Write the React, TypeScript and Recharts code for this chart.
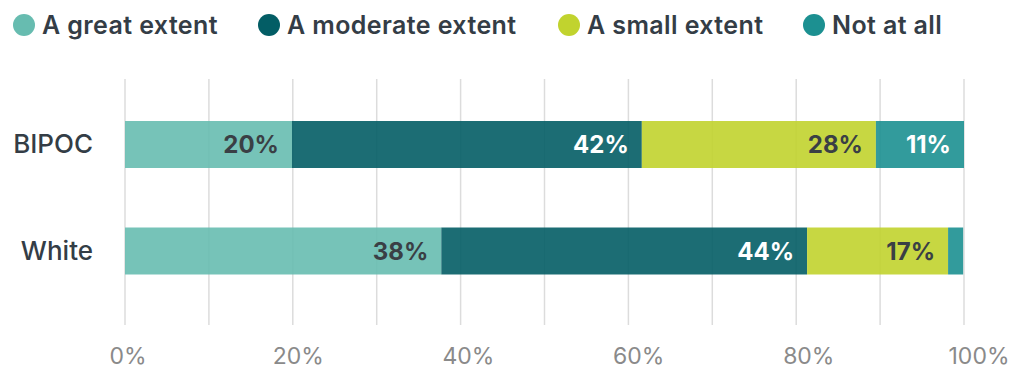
import React from 'react';
import { BarChart, Bar, XAxis, YAxis, CartesianGrid, Legend, LabelList } from 'recharts';

const groups = ['BIPOC', 'White'];
const greatExtent = [19.9, 37.7];
const moderateExtent = [41.7, 43.6];
const smallExtent = [27.9, 16.8];
const notAtAll = [10.5, 1.8];
const gridTicks = [0, 10, 20, 30, 40, 50, 60, 70, 80, 90, 100];
const axisTicks = [0, 20, 40, 60, 80, 100];

const series = [
  { key: 'great', name: 'A great extent', color: '#67BCB0', labelColor: '#3a3f45' },
  { key: 'moderate', name: 'A moderate extent', color: '#035D65', labelColor: '#ffffff' },
  { key: 'small', name: 'A small extent', color: '#C1D32E', labelColor: '#3a3f45' },
  { key: 'none', name: 'Not at all', color: '#1C9091', labelColor: '#ffffff' },
];

const data = groups.map((g, i) => ({
  group: g,
  great: greatExtent[i],
  moderate: moderateExtent[i],
  small: smallExtent[i],
  none: notAtAll[i],
}));

const FONT = 'Inter, "Open Sans", sans-serif';
const itemWidths = [245, 300, 245, undefined];

const LegendRow = () => (
  <div style={{ display: 'flex', alignItems: 'center', fontFamily: FONT }}>
    {series.map((s, i) => (
      <div key={s.key} style={{ display: 'flex', alignItems: 'center', width: itemWidths[i] }}>
        <span
          style={{
            width: 22,
            height: 22,
            borderRadius: '50%',
            background: s.color,
            display: 'inline-block',
            marginRight: 7,
            flexShrink: 0,
          }}
        />
        <span style={{ fontSize: 25, fontWeight: 600, color: '#343d46', letterSpacing: 0.4, whiteSpace: 'nowrap' }}>
          {s.name}
        </span>
      </div>
    ))}
  </div>
);

// tick labels in the original drift a little to the right as the value grows
const XTick = (props: any) => {
  const { x, y, payload } = props;
  const shift = 3 + payload.value * 0.12;
  return (
    <text
      x={x + shift}
      y={y}
      dy="0.71em"
      textAnchor="middle"
      fontSize={23}
      fill="#8a8a8a"
      fontFamily={FONT}
      fontWeight={400}
    >
      {`${payload.value}%`}
    </text>
  );
};

const fmt = (v: any) => (Number(v) < 5 ? '' : `${Math.round(Number(v))}%`);

export default function App() {
  return (
    <div style={{ position: 'absolute', left: 0, top: 0, width: 1010, height: 371, background: '#fff' }}>
      <BarChart
        width={1010}
        height={371}
        data={data}
        layout="vertical"
        margin={{ top: 49, right: 46, bottom: 0, left: 0 }}
      >
        <CartesianGrid vertical horizontal={false} stroke="#dcdcdc" strokeWidth={1.5} verticalValues={gridTicks} />
        <XAxis
          type="number"
          domain={[0, 100]}
          ticks={axisTicks}
          axisLine={false}
          tickLine={false}
          tickSize={0}
          tickMargin={23}
          height={46}
          tick={<XTick />}
        />
        <YAxis
          type="category"
          dataKey="group"
          width={125}
          axisLine={false}
          tickLine={false}
          tickSize={0}
          tickMargin={32}
          padding={{ top: 12, bottom: 21 }}
          tick={{ fontSize: 26, fill: '#343d46', fontFamily: FONT, fontWeight: 500 }}
        />
        <Legend
          verticalAlign="top"
          align="left"
          content={() => <LegendRow />}
          wrapperStyle={{ position: 'absolute', top: 10, left: 13, width: 'auto', height: 30 }}
        />
        {series.map((s) => (
          <Bar
            key={s.key}
            dataKey={s.key}
            name={s.name}
            stackId="a"
            fill={s.color}
            fillOpacity={0.9}
            barSize={47}
            isAnimationActive={false}
          >
            <LabelList
              dataKey={s.key}
              position="insideRight"
              offset={13}
              formatter={fmt}
              style={{ fontSize: 24, fontWeight: 700, fill: s.labelColor, fontFamily: FONT }}
            />
          </Bar>
        ))}
      </BarChart>
    </div>
  );
}
